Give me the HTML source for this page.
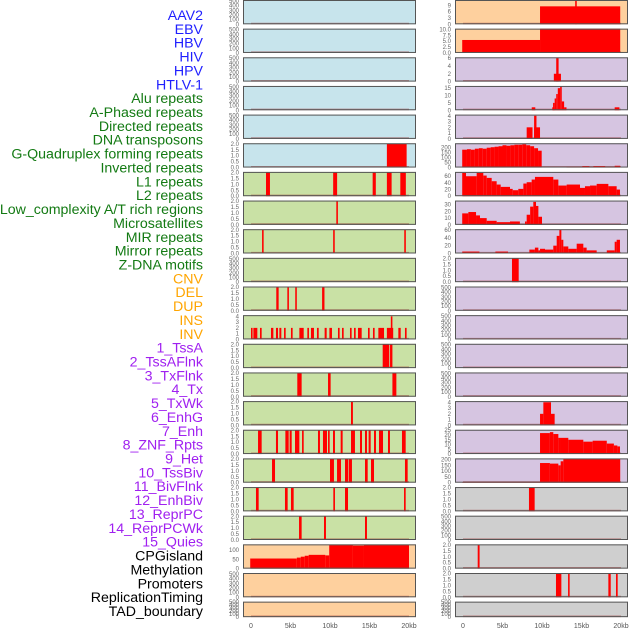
<!DOCTYPE html>
<html><head><meta charset="utf-8"><style>
html,body{margin:0;padding:0;background:#fff;}
svg{display:block;font-family:"Liberation Sans",sans-serif;}
</style></head><body>
<svg id="chart" width="630" height="630" viewBox="0 0 630 630" xmlns="http://www.w3.org/2000/svg"></svg>
<script>
// ---- data ----
const trackLabels = ["AAV2","EBV","HBV","HIV","HPV","HTLV-1","Alu repeats","A-Phased repeats","Directed repeats","DNA transposons","G-Quadruplex forming repeats","Inverted repeats","L1 repeats","L2 repeats","Low_complexity A/T rich regions","Microsatellites","MIR repeats","Mirror repeats","Z-DNA motifs","CNV","DEL","DUP","INS","INV","1_TssA","2_TssAFlnk","3_TxFlnk","4_Tx","5_TxWk","6_EnhG","7_Enh","8_ZNF_Rpts","9_Het","10_TssBiv","11_BivFlnk","12_EnhBiv","13_ReprPC","14_ReprPCWk","15_Quies","CPGisland","Methylation","Promoters","ReplicationTiming","TAD_boundary"];
const labelGroups = [6,13,5,15,5];
const groupColors = ["#1f1fff","#137a13","#ffa500","#a020f0","#000000"];
const leftBg = ["blue","blue","blue","blue","blue","blue","green","green","green","green","green","green","green","green","green","green","green","green","green","orange","orange","orange"];
const rightBg = ["orange","orange","purple","purple","purple","purple","purple","purple","purple","purple","purple","purple","purple","purple","purple","purple","purple","gray","gray","gray","gray","gray"];
const leftYMax = [520,520,520,520,520,2.05,2.05,2.05,2.05,520,2.05,4.2,2.05,2.05,2.05,2.05,2.05,2.05,2.05,132,520,520];
const rightYMax = [11.5,10.3,6.2,16.5,4.2,245,73,36,62,2.05,520,520,520,520,4.2,25.5,210,2.05,520,2.05,2.05,520];
const leftTicks = [[0,100,200,300,400,500],[0,100,200,300,400,500],[0,100,200,300,400,500],[0,100,200,300,400,500],[0,100,200,300,400,500],["0.0","0.5","1.0","1.5","2.0"],["0.0","0.5","1.0","1.5","2.0"],["0.0","0.5","1.0","1.5","2.0"],["0.0","0.5","1.0","1.5","2.0"],[0,100,200,300,400,500],["0.0","0.5","1.0","1.5","2.0"],[0,1,2,3,4],["0.0","0.5","1.0","1.5","2.0"],["0.0","0.5","1.0","1.5","2.0"],["0.0","0.5","1.0","1.5","2.0"],["0.0","0.5","1.0","1.5","2.0"],["0.0","0.5","1.0","1.5","2.0"],["0.0","0.5","1.0","1.5","2.0"],["0.0","0.5","1.0","1.5","2.0"],[0,50,100],[0,100,200,300,400,500],[0,100,200,300,400,500]];
const rightTicks = [[0,3,6,9],["0.0","2.5","5.0","7.5","10.0"],[0,2,4,6],[0,5,10,15],[0,1,2,3,4],[0,50,100,150,200],[0,20,40,60],[0,10,20,30],[0,20,40,60],["0.0","0.5","1.0","1.5","2.0"],[0,100,200,300,400,500],[0,100,200,300,400,500],[0,100,200,300,400,500],[0,100,200,300,400,500],[0,1,2,3,4],[0,5,10,15,20,25],[0,50,100,150,200],["0.0","0.5","1.0","1.5","2.0"],[0,100,200,300,400,500],["0.0","0.5","1.0","1.5","2.0"],["0.0","0.5","1.0","1.5","2.0"],[0,100,200,300,400,500]];
// segments: [startKb, endKb, value]
const leftSegs = [
 [],[],[],[],[],
 [[17.2,19.7,2]],
 [[1.9,2.4,2],[10.4,10.9,2],[15.4,15.8,2],[17.2,17.8,2],[18.9,19.6,2]],
 [[10.8,11.0,2]],
 [[1.4,1.6,2],[10.4,10.6,2],[19.4,19.6,2]],
 [],
 [[3.2,3.5,2],[4.6,4.8,2],[5.6,5.8,2],[9.0,9.3,2]],
 [[0,0.2,2],[0.3,0.8,2],[1.14,1.35,2],[2.53,2.83,2],[3.16,3.42,2],[3.59,3.84,2],[4.18,4.39,2],[5.06,5.27,2],[6.12,6.67,2],[7.13,7.34,2],[7.59,7.97,2],[8.35,8.57,2],[9.32,9.58,2],[9.92,10.25,2],[11.01,11.22,2],[11.52,11.73,2],[12.53,12.74,2],[13.04,13.25,2],[13.54,14.01,2],[14.81,15.02,2],[15.44,15.65,2],[16.12,16.84,2],[17.2,18.0,2],[17.7,17.9,4],[18.65,18.95,2],[19.49,19.7,2]],
 [[16.67,17.5,2],[17.6,17.9,2]],
 [[5.86,6.41,2],[9.75,10.08,2],[17.9,18.4,2]],
 [[12.66,12.9,2]],
 [[0.89,1.35,2],[3.16,3.42,2],[4.35,4.77,2],[4.89,5.15,2],[5.57,6.12,2],[6.46,6.67,2],[8.48,8.73,2],[9.11,9.62,2],[9.75,9.96,2],[10.38,10.63,2],[11.35,11.6,2],[12.66,13.16,2],[13.8,14.05,2],[14.43,14.68,2],[14.89,15.15,2],[15.57,15.82,2],[16.2,16.71,2],[17.34,17.59,2],[19.11,19.58,2]],
 [[2.66,3.04,2],[10.0,10.5,2],[10.89,11.39,2],[11.9,12.28,2],[12.36,12.78,2],[14.43,14.77,2],[15.19,15.57,2],[19.49,19.83,2]],
 [[0.63,0.97,2],[4.3,4.64,2],[5.06,5.4,2],[10.42,10.63,2],[11.9,12.28,2],[19.37,19.58,2]],
 [[6.08,6.41,2],[9.24,9.49,2],[14.43,14.68,2]],
 [[-0.1,5.8,55],[5.8,6.3,60],[6.3,6.8,65],[6.8,7.3,70],[7.3,9.4,75],[9.4,9.9,72],[9.9,12.9,128],[12.9,14.3,125],[14.3,20.0,128]],
 [],[]
];
const rightSegs = [
 [[9.75,19.9,8.5],[14.2,14.4,12]],
 [[-0.1,9.75,5.5],[9.75,19.9,10.3]],
 [[11.5,12.4,2],[11.8,12.1,6]],
 [[8.7,9.15,2],[11.3,11.6,2],[11.4,11.6,5],[11.6,11.8,8],[11.8,12.0,11],[12.0,12.3,15],[12.3,12.5,16],[12.5,12.8,6],[12.8,13.1,2],[19.2,19.8,2]],
 [[8.06,8.8,2],[9.0,9.75,2],[9.0,9.3,4]],
 [[-0.1,0.5,180],[0.5,1,185],[1,1.5,180],[1.5,2,190],[2,2.5,195],[2.5,3,190],[3,3.5,200],[3.5,4,205],[4,4.5,210],[4.5,5,215],[5,5.5,225],[5.5,6,220],[6,6.5,225],[6.5,7,230],[7,7.5,230],[7.5,8,235],[8,8.5,225],[8.5,9,215],[9,9.5,195],[9.5,9.96,170],[13.1,15.1,8],[15.1,16.0,15],[16.0,16.5,10],[16.5,18,15],[18,19.2,10],[19.2,19.9,18]],
 [[-0.1,0.38,70],[0.38,1.73,60],[1.73,2.57,70],[2.57,3.0,62],[3.0,3.63,55],[3.63,4.26,45],[4.26,4.77,35],[4.77,5.95,28],[5.95,6.29,22],[6.29,7.0,18],[7.0,7.64,22],[7.64,8.06,38],[8.06,8.69,42],[8.69,9.11,50],[9.11,11.43,58],[11.43,12.07,50],[12.07,13.12,32],[13.12,14.81,35],[14.81,15.44,25],[15.44,16.08,30],[16.08,16.92,32],[16.92,18.4,37],[18.4,19.45,30],[19.45,19.87,20]],
 [[-0.1,0.68,17],[0.68,1.65,19],[1.65,2.15,14],[2.15,3.0,10],[3.0,4.26,6],[4.26,5.95,4],[5.95,7.2,5],[7.85,8.06,5],[8.06,8.5,15],[8.5,8.9,27],[8.9,9.24,34],[9.24,9.54,28],[9.54,10.0,12]],
 [[-0.1,2.08,5],[4.1,5.7,5],[8.4,9.1,10],[9.1,9.54,15],[9.54,9.75,8],[9.75,10.38,12],[10.38,11.43,10],[11.43,11.86,20],[11.86,12.2,45],[12.2,12.45,60],[12.45,12.7,35],[12.7,13.33,18],[13.33,14.39,12],[14.39,15.23,25],[15.23,15.65,15],[15.65,16.92,8],[18.2,19.2,8],[19.2,19.45,30],[19.45,19.87,35]],
 [[6.2,7.05,2]],
 [],[],[],[],
 [[9.75,10.17,2],[10.17,11.14,4],[11.14,11.6,2]],
 [[9.75,11.0,22],[11.0,11.43,23],[11.43,12.07,21],[12.07,12.28,17],[12.28,13.33,17],[13.33,15.23,15],[15.23,16.41,13],[16.41,18.2,14],[18.2,19.1,11],[19.1,19.54,9],[19.54,19.87,8]],
 [[-0.1,9.75,5],[9.75,11.0,170],[11.0,12.07,165],[12.07,12.36,150],[12.36,12.7,185],[12.7,19.9,205]],
 [[8.35,9.07,2]],
 [],
 [[1.86,2.1,2]],
 [[11.77,12.45,2],[13.3,13.5,2],[18.4,18.7,2],[19.37,19.58,2]],
 []
];
const xTickLabels = ["0","5kb","10kb","15kb","20kb"];
const xTickValues = [0,5,10,15,20];

// ---- layout ----
const svg = document.getElementById('chart');
const NS = "http://www.w3.org/2000/svg";
const bgColors = {blue:"#c7e4ec",green:"#c9e1a5",orange:"#fed09e",purple:"#d6c5e1",gray:"#cfcfcf"};
const colX = [243,455], panelW = 173, pitch = 28.65;
function xScale(col, kb){ return colX[col] + 8 + kb*7.9; }
function panelTop(i){ return i*pitch; }
function panelH(i){ return i===21 ? 15.5 : 24.3; }
function yScale(i, ymax, v){ const t=panelTop(i), h=panelH(i); return t+h-Math.min(v,ymax)/ymax*h; }
function mk(tag, attrs){ const e=document.createElementNS(NS,tag); for(const k in attrs) e.setAttribute(k,attrs[k]); svg.appendChild(e); return e; }

// labels
let li=0;
labelGroups.forEach((n,g)=>{
  for(let k=0;k<n;k++){
    const t = mk('text',{x:203,y:20+li*13.86,'text-anchor':'end','font-size':'14.2',fill:groupColors[g]});
    t.textContent = trackLabels[li];
    
    
    li++;
  }
});

function drawPanel(col,i,bg,ymax,ticks,segs){
  const top=panelTop(i), h=panelH(i), x0=colX[col];
  const r = mk('rect',{x:x0,y:top,width:panelW,height:h,fill:bgColors[bg]});
  
  
  const numeric = ticks.map(Number);
  ticks.forEach((lab,j)=>{
    const v=numeric[j];
    const y=yScale(i,ymax,v);
    const t=mk('text',{x:x0-4,y:y+2,'text-anchor':'end','font-size':'6',fill:'#666'});
    t.textContent=String(lab);
    
    
  });
  const b=mk('line',{x1:xScale(col,0),x2:xScale(col,20),y1:top+h-0.8,y2:top+h-0.8,stroke:'rgba(150,30,30,0.45)','stroke-width':1.6});
  
  
  segs.forEach(s=>{
    const xa=xScale(col,s[0]), xb=xScale(col,s[1]);
    const yv=yScale(i,ymax,s[2]);
    const bar=mk('rect',{x:xa,y:yv,width:Math.max(1.3,xb-xa),height:top+h-yv,fill:'#ff0000'});
    
    
  });
  const f=mk('rect',{x:x0+0.5,y:top+0.5,width:panelW-1,height:h-1,fill:'none',stroke:'#555','stroke-width':1});
  
  
}
for(let i=0;i<22;i++){
  drawPanel(0,i,leftBg[i],leftYMax[i],leftTicks[i],leftSegs[i]);
  drawPanel(1,i,rightBg[i],rightYMax[i],rightTicks[i],rightSegs[i]);
}
[0,1].forEach(col=>{
  xTickValues.forEach((v,j)=>{
    const t=mk('text',{x:xScale(col,v),y:628,'text-anchor':'middle','font-size':'7',fill:'#555'});
    t.textContent=xTickLabels[j];
    
    
  });
});
</script>
</body></html>
